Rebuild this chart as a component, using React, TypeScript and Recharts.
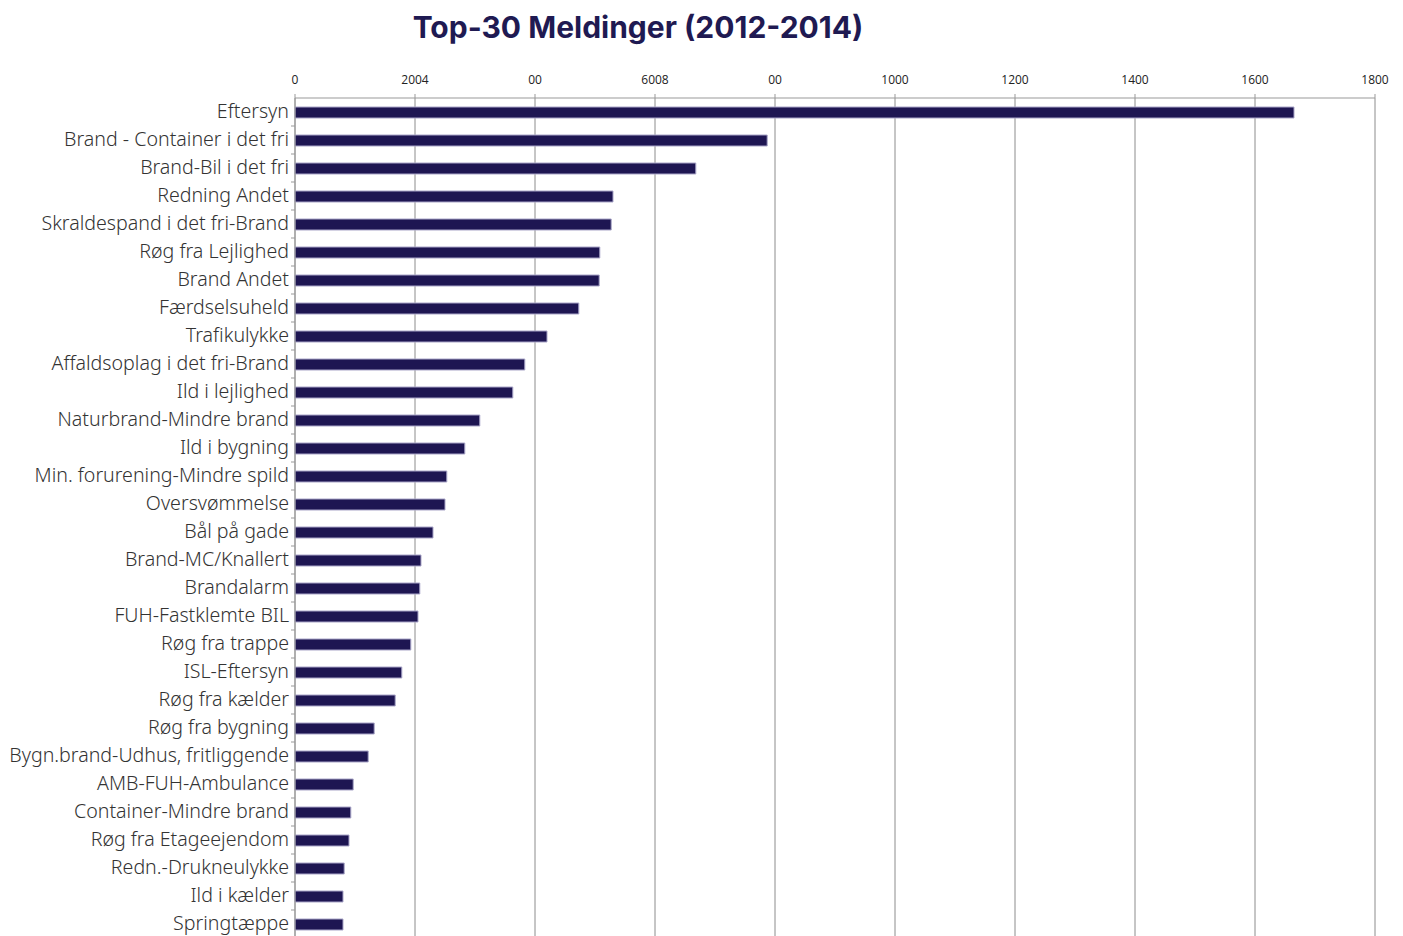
import { BarChart, Bar, XAxis, YAxis, CartesianGrid } from 'recharts';

const categories = [
  'Eftersyn', 'Brand - Container i det fri', 'Brand-Bil i det fri', 'Redning Andet',
  'Skraldespand i det fri-Brand', 'Røg fra Lejlighed', 'Brand Andet', 'Færdselsuheld',
  'Trafikulykke', 'Affaldsoplag i det fri-Brand', 'Ild i lejlighed', 'Naturbrand-Mindre brand',
  'Ild i bygning', 'Min. forurening-Mindre spild', 'Oversvømmelse', 'Bål på gade',
  'Brand-MC/Knallert', 'Brandalarm', 'FUH-Fastklemte BIL', 'Røg fra trappe',
  'ISL-Eftersyn', 'Røg fra kælder', 'Røg fra bygning', 'Bygn.brand-Udhus, fritliggende',
  'AMB-FUH-Ambulance', 'Container-Mindre brand', 'Røg fra Etageejendom', 'Redn.-Drukneulykke',
  'Ild i kælder', 'Springtæppe',
];

const counts = [
  1665, 787, 668, 530, 527, 508, 507, 473, 420, 383, 363, 308, 283, 253, 250, 230,
  210, 208, 205, 193, 178, 167, 132, 122, 97, 93, 90, 82, 80, 80,
];

const tickValues = [0, 200, 400, 600, 800, 1000, 1200, 1400, 1600, 1800];
const tickLabels = ['0', '2004', '00', '6008', '00', '1000', '1200', '1400', '1600', '1800'];

const data = categories.map((name, i) => ({ name, count: counts[i] }));

const CategoryTick = (props: any) => {
  const { x, y, payload } = props;
  return (
    <g>
      <text
        x={x}
        y={y}
        dy={6}
        textAnchor="end"
        fontSize={19.6}
        fontWeight={300}
        fontFamily="'Noto Sans', sans-serif"
        fill="#333"
      >
        {payload.value}
      </text>
      <line x1={x + 2} x2={x + 6} y1={y + 14} y2={y + 14} stroke="#999" />
    </g>
  );
};

export default function App() {
  return (
    <div style={{ position: 'relative', width: 1395, height: 940 }}>
      <div
        style={{
          position: 'absolute',
          left: 0,
          width: 1260,
          top: 1,
          textAlign: 'center',
          fontFamily: "Inter, 'Noto Sans', sans-serif",
          fontWeight: 700,
          fontSize: 30,
          color: '#1f1a52',
        }}
      >
        Top-30 Meldinger (2012-2014)
      </div>
      <BarChart
        width={1395}
        height={940}
        data={data}
        layout="vertical"
        margin={{ top: 60, right: 28, bottom: 10, left: 0 }}
        barCategoryGap={0}
      >
        <CartesianGrid vertical horizontal={false} stroke="#8c8c8c" />
        <XAxis
          type="number"
          orientation="top"
          domain={[0, 1800]}
          ticks={tickValues}
          tickFormatter={(v: number) => tickLabels[tickValues.indexOf(v)]}
          height={30}
          stroke="#999"
          tickSize={4}
          tickMargin={10}
          tick={{ fontSize: 12, fill: '#222', fontFamily: "'Open Sans', sans-serif" }}
          interval={0}
        />
        <YAxis
          type="category"
          dataKey="name"
          width={287}
          stroke="#999"
          tickLine={false}
          tickSize={0}
          tickMargin={6}
          interval={0}
          tick={<CategoryTick />}
        />
        <Bar
          dataKey="count"
          fill="#1e1652"
          stroke="#a9a5c8"
          strokeWidth={1}
          barSize={11}
          isAnimationActive={false}
        />
      </BarChart>
    </div>
  );
}
